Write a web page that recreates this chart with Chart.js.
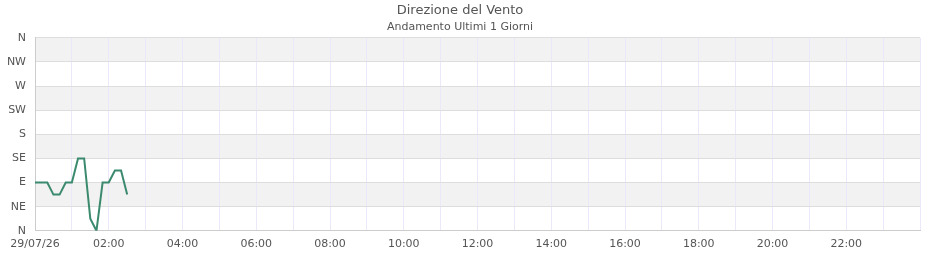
<!DOCTYPE html>
<html>
<head>
<meta charset="utf-8">
<script src="https://cdn.jsdelivr.net/npm/chart.js@4/dist/chart.umd.min.js"></script>
<style>
html,body{margin:0;padding:0;background:#fff;}
#wrap{width:940px;height:260px;position:relative;}
</style>
</head>
<body>
<div id="wrap"><canvas id="c" width="940" height="260"></canvas></div>
<script>
// Categories: minutes since midnight (00:00 .. 02:30, every 10 minutes)
const times = [0, 10, 20, 30, 40, 50, 60, 70, 80, 90, 100, 110, 120, 130, 140, 150];
// Wind direction in degrees
const directions = [90, 90, 90, 67.5, 67.5, 90, 90, 135, 135, 22.5, 0, 90, 90, 112.5, 112.5, 67.5];
// Y tick labels (every 45 degrees)
const dirLabels = ['N', 'NE', 'E', 'SE', 'S', 'SW', 'W', 'NW', 'N'];
// X tick labels
const dayLabel = '29/07/26';
const titleText = 'Direzione del Vento';
const subtitleText = 'Andamento Ultimi 1 Giorni';

const points = times.map((t, i) => ({x: t, y: directions[i]}));

const bandUnderGrid = {
  id: 'bandsUnder',
  beforeDraw(chart) {
    const {ctx, chartArea, scales} = chart;
    const y = scales.y;
    if (!chartArea) return;
    ctx.save();
    ctx.fillStyle = '#f2f2f2';
    for (let v = 45; v < 360; v += 90) {
      const top = y.getPixelForValue(v + 45);
      const bot = y.getPixelForValue(v);
      ctx.fillRect(chartArea.left, top, chartArea.right - chartArea.left, bot - top);
    }
    ctx.restore();
  }
};

function pad2(n){ return (n < 10 ? '0' : '') + n; }

new Chart(document.getElementById('c'), {
  type: 'line',
  data: {
    datasets: [{
      data: points,
      borderColor: '#3b8a6e',
      borderWidth: 2,
      pointRadius: 0,
      tension: 0,
      fill: false
    }]
  },
  options: {
    responsive: false,
    animation: false,
    layout: {padding: {left: 0, right: 20, top: 0, bottom: 2}},
    plugins: {
      legend: {display: false},
      tooltip: {enabled: false},
      title: {
        display: true,
        text: titleText,
        color: '#555',
        font: {family: 'DejaVu Sans', size: 13, weight: 'normal', lineHeight: 1.2},
        padding: {top: 3, bottom: 2}
      },
      subtitle: {
        display: true,
        text: subtitleText,
        color: '#555',
        font: {family: 'DejaVu Sans', size: 11, weight: 'normal', lineHeight: 1.2},
        padding: {top: 0, bottom: 4}
      }
    },
    scales: {
      x: {
        type: 'linear',
        min: 0,
        max: 1440,
        grid: {color: '#ebe8fa', drawTicks: false, lineWidth: 1},
        border: {color: '#cccccc'},
        ticks: {
          stepSize: 60,
          autoSkip: false,
          maxRotation: 0,
          padding: 7,
          color: '#555',
          font: {family: 'DejaVu Sans', size: 11},
          callback: function(v) {
            if (v === 0) return dayLabel;
            const h = v / 60;
            if (h % 2 !== 0 || h >= 24) return '';
            return pad2(h) + ':00';
          }
        }
      },
      y: {
        min: 0,
        max: 360,
        afterFit: function(s) { s.width = 35; },
        grid: {color: '#dddddd', drawTicks: false},
        border: {color: '#cccccc'},
        ticks: {
          stepSize: 45,
          padding: 9,
          color: '#555',
          font: {family: 'DejaVu Sans', size: 11},
          callback: function(v) { return dirLabels[Math.round(v / 45)]; }
        }
      }
    }
  },
  plugins: [bandUnderGrid]
});
</script>
</body>
</html>
